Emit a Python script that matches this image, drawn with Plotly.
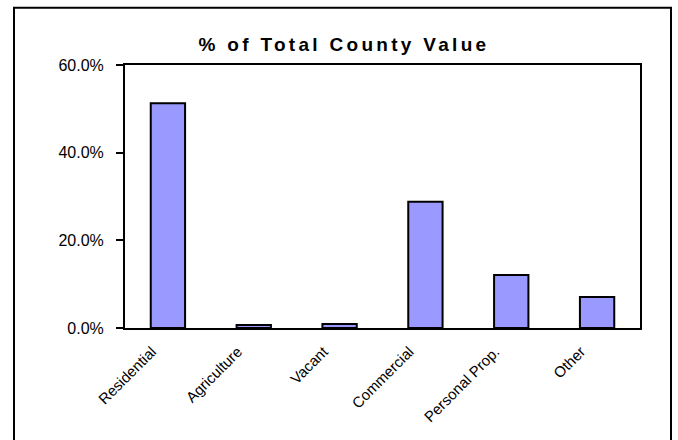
import plotly.graph_objects as go

categories = ["Residential", "Agriculture", "Vacant", "Commercial", "Personal Prop.", "Other"]
values = [51.3, 0.7, 0.9, 28.8, 12.1, 7.1]
y_ticks = [0, 20, 40, 60]
y_tick_labels = ["0.0%", "20.0%", "40.0%", "60.0%"]
title_text = "% of Total County Value"

W, H = 678, 440
L, R, T, B = 125, 640, 65, 328  # plot area in pixels

fig = go.Figure(go.Bar(
    x=categories, y=values,
    marker=dict(color="#9999FF", line=dict(color="black", width=2)),
    hoverinfo="x+y",
))

pw, ph = R - L, B - T
def px_x(x):
    return (x - L) / pw
def px_y(y):
    return (B - y) / ph

fig.update_layout(
    width=W, height=H,
    margin=dict(l=L, r=W - R, t=T, b=H - B, pad=0),
    paper_bgcolor="white", plot_bgcolor="white",
    bargap=0.6,
    showlegend=False,
    font=dict(family="Liberation Sans, Arial, sans-serif", color="black"),
    title=dict(
        text='<span style="letter-spacing:3.3px">' + title_text + '</span>',
        font=dict(size=19, weight="bold", color="black"),
        x=px_x(344), xref="paper", xanchor="center",
        y=1 - 44 / H, yref="container", yanchor="middle",
    ),
    xaxis=dict(
        showline=True, linecolor="black", linewidth=2, mirror=True,
        showgrid=False, ticks="", tickangle=-45,
        tickfont=dict(size=15, color="black"),
        ticklabelshift=-16, ticklabelstandoff=7,
        zeroline=False, fixedrange=True,
    ),
    yaxis=dict(
        range=[0, 60], tickvals=y_ticks, ticktext=y_tick_labels,
        showline=True, linecolor="black", linewidth=2, mirror=True,
        showgrid=False, zeroline=False,
        ticks="outside", ticklen=7, tickwidth=2, tickcolor="black",
        ticklabelstandoff=9,
        tickfont=dict(size=16, color="black"),
        fixedrange=True,
    ),
    shapes=[dict(
        type="rect", xref="paper", yref="paper",
        x0=px_x(14), x1=px_x(671), y0=px_y(445), y1=px_y(7.7),
        line=dict(color="black", width=2), fillcolor="rgba(0,0,0,0)",
        layer="above",
    )],
)

fig.write_html("out.html", config={"displayModeBar": False})
